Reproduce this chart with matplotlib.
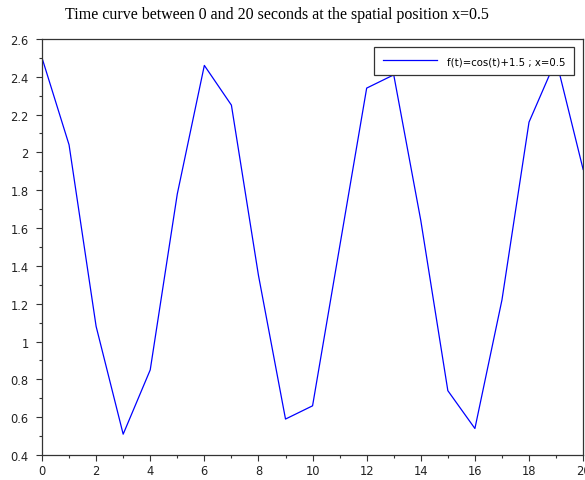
import matplotlib
matplotlib.use("Agg")
import matplotlib.pyplot as plt

t = [0, 1, 2, 3, 4, 5, 6, 7, 8, 9, 10, 11, 12, 13, 14, 15, 16, 17, 18, 19, 20]
f = [2.50, 2.04, 1.08, 0.51, 0.85, 1.78, 2.46, 2.25, 1.35, 0.59, 0.66,
     1.50, 2.34, 2.41, 1.64, 0.74, 0.54, 1.22, 2.16, 2.49, 1.91]
xticks = [0, 2, 4, 6, 8, 10, 12, 14, 16, 18, 20]
xlabels = ["0", "2", "4", "6", "8", "10", "12", "14", "16", "18", "20"]
yticks = [0.4, 0.6, 0.8, 1.0, 1.2, 1.4, 1.6, 1.8, 2.0, 2.2, 2.4, 2.6]
ylabels = ["0.4", "0.6", "0.8", "1", "1.2", "1.4", "1.6", "1.8", "2", "2.2", "2.4", "2.6"]
title = "Time curve between 0 and 20 seconds at the spatial position x=0.5"
label = "f(t)=cos(t)+1.5 ; x=0.5"

fig = plt.figure(figsize=(5.85, 4.81), dpi=100)
ax = fig.add_axes([0.0718, 0.052, 0.925, 0.865])
ax.plot(t, f, color="#0000ff", lw=0.9, label=label)
ax.set_xlim(0, 20)
ax.set_ylim(0.4, 2.6)
ax.set_xticks(xticks)
ax.set_xticklabels(xlabels)
ax.set_xticks([x + 1 for x in xticks[:-1]], minor=True)
ax.set_yticks(yticks)
ax.set_yticklabels(ylabels)
ax.set_yticks([y + 0.1 for y in yticks[:-1]], minor=True)
for lab in ax.get_xticklabels() + ax.get_yticklabels():
    lab.set_family("DejaVu Sans")
    lab.set_fontsize(8.3)
    lab.set_color("#222222")
ax.tick_params(which="major", length=4.5, width=0.8, direction="out", color="#333333")
ax.tick_params(axis="x", which="major", pad=2)
ax.tick_params(axis="y", which="major", pad=5)
ax.tick_params(which="minor", length=2.5, width=0.8, direction="out", color="#333333")
for s in ax.spines.values():
    s.set_color("#333333")
    s.set_linewidth(0.9)
fig.text(0.474, 0.968, title, ha="center", va="center", family="Liberation Serif", fontsize=11.5)
leg = ax.legend(loc="upper right", bbox_to_anchor=(0.993, 0.993), prop={"family": "DejaVu Sans", "size": 7.3},
                fancybox=False, framealpha=1, edgecolor="#333333", handlelength=5.3, borderpad=0.9,
                handletextpad=1.0)
leg.get_frame().set_linewidth(0.9)
fig.savefig("out.png", dpi=100)
